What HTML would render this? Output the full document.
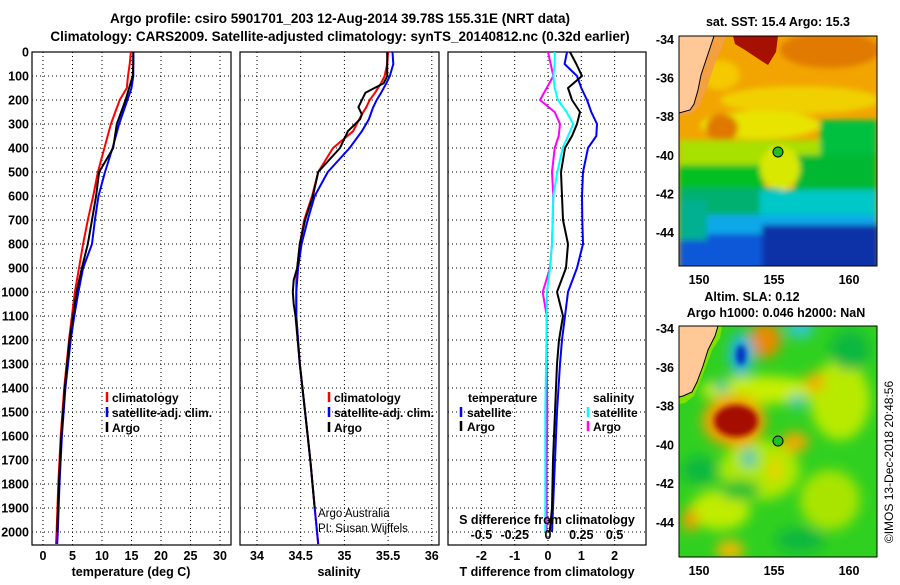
<!DOCTYPE html>
<html><head><meta charset="utf-8">
<style>
html,body{margin:0;padding:0;background:#fff;}
svg text{font-family:"Liberation Sans",sans-serif;font-weight:bold;fill:#000;}
</style></head>
<body>
<svg id="chart" width="900" height="580" viewBox="0 0 900 580" xmlns="http://www.w3.org/2000/svg">
<defs>
<clipPath id="c1"><rect x="32" y="52" width="199" height="493"/></clipPath>
<clipPath id="c2"><rect x="240" y="52" width="199" height="493"/></clipPath>
<clipPath id="c3"><rect x="448" y="52" width="198" height="493"/></clipPath>
<clipPath id="m1"><rect x="679" y="36" width="198" height="230"/></clipPath>
<clipPath id="m2"><rect x="679" y="326" width="198" height="231"/></clipPath>
<filter id="b3" x="-20%" y="-20%" width="140%" height="140%"><feGaussianBlur stdDeviation="3"/></filter>
<filter id="b6" x="-30%" y="-30%" width="160%" height="160%"><feGaussianBlur stdDeviation="6"/></filter>
</defs>
<text x="340" y="23" font-size="13.5" text-anchor="middle">Argo profile: csiro 5901701_203 12-Aug-2014 39.78S 155.31E (NRT data)</text>
<text x="340" y="41" font-size="13.5" text-anchor="middle">Climatology: CARS2009. Satellite-adjusted climatology: synTS_20140812.nc (0.32d earlier)</text>

<!-- SST map -->
<g clip-path="url(#m1)">
<rect x="679" y="36" width="198" height="230" fill="#f2a400"/>
<g filter="url(#b3)">
<ellipse cx="830" cy="50" rx="50" ry="18" fill="#e07a00"/>
<ellipse cx="720" cy="75" rx="20" ry="15" fill="#f5c800"/>
<ellipse cx="800" cy="100" rx="80" ry="14" fill="#f0d000"/>
<ellipse cx="760" cy="125" rx="60" ry="14" fill="#e8e400"/>
<ellipse cx="722" cy="128" rx="16" ry="14" fill="#e07800"/>
<rect x="679" y="140" width="198" height="35" fill="#a8e000"/>
<rect x="820" y="120" width="57" height="50" fill="#00c040"/>
<rect x="679" y="165" width="85" height="30" fill="#00c020"/>
<rect x="795" y="155" width="82" height="35" fill="#00b830"/>
<ellipse cx="780" cy="168" rx="20" ry="22" fill="#d8e800"/>
<rect x="679" y="188" width="100" height="37" fill="#00b070"/>
<rect x="760" y="190" width="117" height="30" fill="#00c8c8"/>
<rect x="679" y="215" width="198" height="22" fill="#10a8e8"/>
<rect x="679" y="234" width="198" height="40" fill="#0858d8"/>
<rect x="762" y="225" width="117" height="45" fill="#0830a8"/>
<rect x="679" y="200" width="28" height="40" fill="#00b090"/>
</g>
<polygon points="733,36 778,36 776,52 768,65 760,60 745,50 735,44" fill="#a51000"/>
<polygon points="679,36 726,36 722,48 716,60 711,75 706,90 700,105 692,114 679,116" fill="#f2a040"/>
<polygon points="679,36 714,36 711,45 706,60 701,75 698,90 694,104 690,110 679,113" fill="#ffc896" stroke="#000" stroke-width="1"/>
<circle cx="778" cy="152" r="5" fill="#20c020" stroke="#000" stroke-width="1"/>
</g>
<rect x="679" y="36" width="198" height="230" fill="none" stroke="#000"/>
<text x="778" y="26" font-size="12.5" text-anchor="middle">sat. SST: 15.4 Argo: 15.3</text>

<!-- SLA map -->
<g clip-path="url(#m2)">
<rect x="679" y="326" width="198" height="231" fill="#30d020"/>
<g filter="url(#b6)">
<ellipse cx="760" cy="390" rx="60" ry="14" fill="#c8ee00"/>
<ellipse cx="840" cy="400" rx="30" ry="40" fill="#b8ea00"/>
<ellipse cx="760" cy="470" rx="40" ry="30" fill="#b0e800"/>
<ellipse cx="720" cy="510" rx="30" ry="20" fill="#c0ec00"/>
<ellipse cx="830" cy="500" rx="30" ry="30" fill="#a8e400"/>
<ellipse cx="850" cy="350" rx="20" ry="20" fill="#10b840"/>
<ellipse cx="700" cy="470" rx="18" ry="14" fill="#10b840"/>
<ellipse cx="800" cy="540" rx="25" ry="12" fill="#10b840"/>
<ellipse cx="740" cy="490" rx="20" ry="10" fill="#20c030"/>
<ellipse cx="765" cy="340" rx="16" ry="18" fill="#e88a00"/>
<ellipse cx="815" cy="382" rx="10" ry="10" fill="#f0b000"/>
<ellipse cx="795" cy="442" rx="14" ry="10" fill="#f0a800"/>
<ellipse cx="775" cy="470" rx="6" ry="12" fill="#f0d000"/>
<ellipse cx="690" cy="520" rx="8" ry="12" fill="#f0a000"/>
<ellipse cx="730" cy="550" rx="14" ry="10" fill="#f0b800"/>
<ellipse cx="734" cy="421" rx="32" ry="26" fill="#f0a000"/>
<ellipse cx="800" cy="328" rx="14" ry="10" fill="#30c8d0"/>
<ellipse cx="741" cy="354" rx="13" ry="22" fill="#20b8d8"/>
<ellipse cx="797" cy="402" rx="7" ry="8" fill="#40c8c0"/>
<ellipse cx="749" cy="458" rx="7" ry="9" fill="#30c0c0"/>
<ellipse cx="722" cy="386" rx="7" ry="7" fill="#30c0a0"/>
</g>
<g filter="url(#b3)">
<ellipse cx="736" cy="421" rx="22" ry="16" fill="#a51000"/>
<ellipse cx="741" cy="355" rx="5" ry="10" fill="#0030c0"/>
</g>
<polygon points="679,326 722,326 720,338 712,350 706,366 700,382 694,396 685,403 679,404" fill="#80e000"/>
<polygon points="679,326 718,326 715,336 708,350 703,366 697,382 692,392 683,396 679,397" fill="#ffc896" stroke="#000" stroke-width="1"/>
<circle cx="778" cy="441" r="5" fill="#20c020" stroke="#000" stroke-width="1"/>
</g>
<rect x="679" y="326" width="198" height="231" fill="none" stroke="#000"/>
<text x="752" y="301" font-size="12.5" text-anchor="middle">Altim. SLA: 0.12</text>
<text x="776" y="317" font-size="12.5" text-anchor="middle">Argo h1000: 0.046 h2000: NaN</text>
<text transform="translate(893,462) rotate(-90)" font-size="12" text-anchor="middle" style="font-weight:normal">©IMOS 13-Dec-2018 20:48:56</text>

<g id="axes"></g>
</svg>
<script>
// ---- data ----
var depthTicks = [0,100,200,300,400,500,600,700,800,900,1000,1100,1200,1300,1400,1500,1600,1700,1800,1900,2000];
var tempTicks = [0,5,10,15,20,25,30];
var salTicks = [34,34.5,35,35.5,36];
var salTickLabels = ["34","34.5","35","35.5","36"];
var dTTicks = [-2,-1,0,1,2];
var dSTicks = [-0.5,-0.25,0,0.25,0.5];
var dSTickLabels = ["-0.5","-0.25","0","0.25","0.5"];

var tempDepth = [0,50,100,150,200,300,400,500,600,700,800,900,1000,1100,1200,1400,1600,1800,2000,2050];
var tempArgo = [15.3,15.3,15.2,14.6,14.0,12.5,11.9,9.5,9.0,8.3,7.6,6.6,5.7,5.1,4.5,3.7,3.1,2.7,2.4,null];
var tempClim = [14.9,14.7,14.4,14.2,13.0,11.5,10.4,9.3,8.5,7.6,6.8,6.1,5.4,4.9,4.4,3.6,3.0,2.6,2.3,2.2];
var tempSat = [15.3,15.3,15.3,15.0,14.3,12.9,11.8,10.5,9.4,8.8,8.3,6.8,6.0,5.3,4.7,3.8,3.2,2.8,2.5,2.4];

var salDepth = [0,50,100,130,170,200,230,260,280,330,400,500,600,700,800,900,950,1000,1050,1100,1300,1500,1700,1900,2050];
var salArgo = [35.49,35.49,35.49,35.45,35.24,35.2,35.16,35.2,35.18,35.04,34.95,34.70,34.64,34.55,34.49,34.46,34.42,34.41,34.42,34.44,34.49,34.55,34.61,34.66,null];
var salClim = [35.50,35.49,35.46,35.42,35.35,35.29,35.25,35.2,35.17,35.1,34.87,34.70,34.63,34.54,34.49,34.46,34.45,34.45,34.45,34.45,34.49,34.55,34.61,34.66,34.70];
var salSat = [35.55,35.56,35.52,35.48,35.42,35.37,35.33,35.3,35.28,35.2,35.06,34.81,34.66,34.58,34.51,34.47,34.46,34.45,34.45,34.45,34.49,34.55,34.61,34.66,34.70];

var diffDepth = [0,50,100,150,200,250,300,350,400,500,600,700,800,900,1000,1100,1200,1300,1500,1700,1900,2000];
var dTSat = [0.57,0.5,0.87,1.0,1.17,1.3,1.47,1.45,1.2,1.05,1.02,1.03,1.05,0.87,0.6,0.51,0.42,0.36,0.27,0.21,0.15,0.12];
var dTArgo = [0.66,0.85,1.02,0.6,0.72,0.96,0.87,0.72,0.51,0.39,0.42,0.45,0.6,0.54,0.27,0.45,0.33,0.27,0.21,0.15,0.12,0.05];
var dSSat = [0.05,0.05,0.04,0.05,0.075,0.14,0.19,0.15,0.11,0.07,0.04,0.035,0.03,0.015,-0.008,-0.01,-0.012,-0.015,-0.02,-0.02,-0.02,-0.02];
var dSArgo = [0,0.02,0.04,-0.01,-0.06,0.05,0.09,0.08,0.05,0.03,0.04,0.035,0.03,0.015,-0.04,-0.01,-0.01,-0.01,-0.005,-0.01,-0.01,-0.01];

// ---- scales ----
var NS = "http://www.w3.org/2000/svg";
var root = document.getElementById('axes');
function yD(d){ return 52 + d*0.24; }
function xT(t){ return 43 + t*5.9; }
function xS(s){ return 257 + (s-34)*87.4; }
function xDT(t){ return 548 + t*33.3; }
function xDS(s){ return 548 + s*133.2; }
function mk(tag, attrs){ var e=document.createElementNS(NS,tag); for(var k in attrs) e.setAttribute(k,attrs[k]); return e; }

function panel(x0,w,ticksX,xfn,labels,name){
  var g = mk('g',{});
  
  
  depthTicks.forEach(function(d){
    var l = mk('line',{x1:x0,x2:x0+w,y1:yD(d),y2:yD(d),stroke:'#000','stroke-width':1,'stroke-dasharray':'1,3'});
    
    
    g.appendChild(l);
  });
  ticksX.forEach(function(t,i){
    var x = xfn(t);
    var l = mk('line',{x1:x,x2:x,y1:52,y2:545,stroke:'#000','stroke-width':1,'stroke-dasharray':'1,3'});
    
    
    g.appendChild(l);
    var tx = mk('text',{x:x,y:560,'font-size':12.5,'text-anchor':'middle'});
    tx.textContent = labels ? labels[i] : String(t);
    
    
    g.appendChild(tx);
  });
  var r = mk('rect',{x:x0,y:52,width:w,height:493,fill:'none',stroke:'#000','stroke-width':1.2});
  
  
  g.appendChild(r);
  root.appendChild(g);
}
function series(depths, vals, xfn, color, clip, name){
  var pts = [];
  for (var i=0;i<depths.length;i++){ if (vals[i]!==null) pts.push(xfn(vals[i]).toFixed(1)+','+yD(depths[i]).toFixed(1)); }
  var p = mk('polyline',{points:pts.join(' '),fill:'none',stroke:color,'stroke-width':2,'clip-path':'url(#'+clip+')','stroke-linejoin':'round'});
  
  
  root.appendChild(p);
}
function txt(x,y,s,size,anchor,name,weight){
  var t = mk('text',{x:x,y:y,'font-size':size,'text-anchor':anchor||'start'});
  if (weight) t.setAttribute('style','font-weight:'+weight);
  t.textContent = s;
  
  
  root.appendChild(t);
}
function legMark(x,y,color){
  var l = mk('line',{x1:x,x2:x,y1:y-10,y2:y,stroke:color,'stroke-width':2.5});
  
  
  root.appendChild(l);
}

panel(32,199,tempTicks,xT,null,'temperature-panel');
panel(240,199,salTicks,xS,salTickLabels,'salinity-panel');
panel(448,198,dTTicks,xDT,null,'difference-panel');

depthTicks.forEach(function(d){ txt(29,yD(d)+4.5,String(d),12.5,'end','y-tick-label'); });

series(tempDepth,tempClim,xT,'#ff0000','c1','temp-climatology-line');
series(tempDepth,tempSat,xT,'#0000ff','c1','temp-satellite-line');
series(tempDepth,tempArgo,xT,'#000000','c1','temp-argo-line');
series(salDepth,salClim,xS,'#ff0000','c2','sal-climatology-line');
series(salDepth,salSat,xS,'#0000ff','c2','sal-satellite-line');
series(salDepth,salArgo,xS,'#000000','c2','sal-argo-line');
series(diffDepth,dSArgo,xDS,'#ff00ff','c3','sdiff-argo-line');
series(diffDepth,dSSat,xDS,'#00ffff','c3','sdiff-satellite-line');
series(diffDepth,dTSat,xDT,'#0000ff','c3','tdiff-satellite-line');
series(diffDepth,dTArgo,xDT,'#000000','c3','tdiff-argo-line');

txt(131,576,'temperature (deg C)',12.5,'middle','x-axis-title-temperature');
txt(339,576,'salinity',12.5,'middle','x-axis-title-salinity');
txt(547,576,'T difference from climatology',12.5,'middle','x-axis-title-tdiff');
txt(547,524,'S difference from climatology',12.5,'middle','sdiff-axis-title');
dSTicks.forEach(function(s,i){ txt(xDS(s),539,dSTickLabels[i],12.5,'middle','sdiff-tick-label'); });

legMark(107,402,'#ff0000'); txt(112,402,'climatology',12,'start','legend-climatology');
legMark(107,417,'#0000ff'); txt(112,417,'satellite-adj. clim.',12,'start','legend-satellite');
legMark(107,432,'#000000'); txt(112,432,'Argo',12,'start','legend-argo');
legMark(329,402,'#ff0000'); txt(334,402,'climatology',12,'start','legend-climatology-sal');
legMark(329,417,'#0000ff'); txt(334,417,'satellite-adj. clim.',12,'start','legend-satellite-sal');
legMark(329,432,'#000000'); txt(334,432,'Argo',12,'start','legend-argo-sal');

txt(468,402,'temperature',12,'start','legend-temperature-header');
legMark(461,417,'#0000ff'); txt(467,417,'satellite',12,'start','legend-tdiff-satellite');
legMark(461,431,'#000000'); txt(467,431,'Argo',12,'start','legend-tdiff-argo');
txt(593,402,'salinity',12,'start','legend-salinity-header');
legMark(588,417,'#00ffff'); txt(593,417,'satellite',12,'start','legend-sdiff-satellite');
legMark(588,431,'#ff00ff'); txt(593,431,'Argo',12,'start','legend-sdiff-argo');

txt(318,517,'Argo Australia',11.5,'start','credit-argo-australia','normal');
txt(318,532,'PI: Susan Wijffels',11.5,'start','credit-pi','normal');

// map axes
var latTicks = [-34,-36,-38,-40,-42,-44];
var lonTicks = [150,155,160];
function yLat1(l){ return 39 + (-34-l)*19.3; }
function yLat2(l){ return 328 + (-34-l)*19.4; }
function xLon(l){ return 699 + (l-150)*15; }
latTicks.forEach(function(l){
  txt(674,yLat1(l)+5,String(l),12.5,'end','map-lat-label');
  txt(674,yLat2(l)+5,String(l),12.5,'end','map-lat-label');
});
lonTicks.forEach(function(l){
  txt(xLon(l),284,String(l),12.5,'middle','map-lon-label');
  txt(xLon(l),575,String(l),12.5,'middle','map-lon-label');
});
</script>
</body></html>
